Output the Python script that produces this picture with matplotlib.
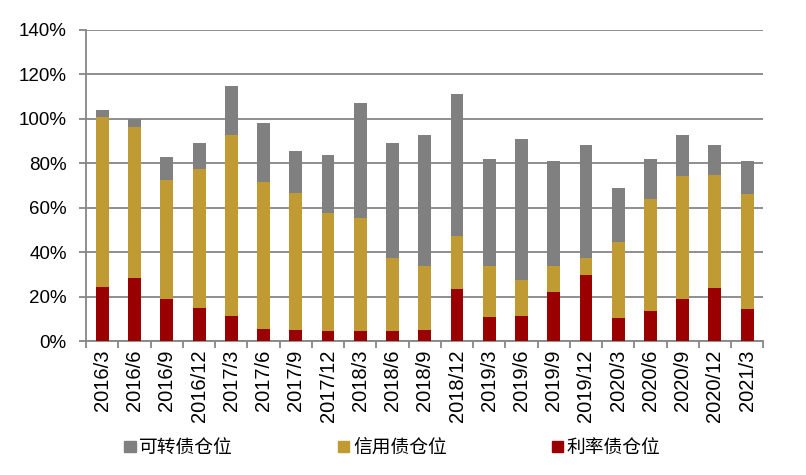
import numpy as np
import matplotlib
matplotlib.use("Agg")
from matplotlib import pyplot as plt
from matplotlib.patches import Patch

plt.rcParams['font.family'] = ['Liberation Sans', 'Noto Sans CJK SC', 'DejaVu Sans']

dates = ['2016/3', '2016/6', '2016/9', '2016/12', '2017/3', '2017/6', '2017/9', '2017/12',
         '2018/3', '2018/6', '2018/9', '2018/12', '2019/3', '2019/6', '2019/9', '2019/12',
         '2020/3', '2020/6', '2020/9', '2020/12', '2021/3']

# 利率债仓位 (%)
rate = [24.5, 28.4, 18.9, 14.9, 11.3, 5.4, 5.0, 4.5, 4.5, 4.5, 5.0,
        23.5, 10.8, 11.3, 22.1, 29.8, 10.4, 13.5, 18.9, 23.9, 14.4]
# 信用债仓位 (%)
credit = [76.5, 68.1, 53.7, 62.7, 81.6, 66.3, 61.8, 53.2, 51.0, 32.9, 28.8,
          23.9, 23.0, 16.2, 11.7, 7.6, 34.3, 50.6, 55.5, 51.0, 51.9]
# 可转债仓位 (%)
convert = [2.8, 3.2, 10.0, 11.7, 21.7, 26.2, 18.5, 25.8, 51.4, 51.9, 59.1,
           63.6, 48.3, 63.2, 47.4, 51.0, 24.3, 18.0, 18.1, 13.5, 14.9]

c_rate = '#9a0000'
c_credit = '#c09a33'
c_convert = '#808080'

rate = np.array(rate)
credit = np.array(credit)
convert = np.array(convert)
x = np.arange(len(dates))

fig = plt.figure(figsize=(8.06, 4.75), dpi=100)
ax = fig.add_axes([0.107, 0.282, 0.84, 0.655])

w = 0.4
ax.bar(x, rate, w, color=c_rate, zorder=3)
ax.bar(x, credit, w, bottom=rate, color=c_credit, zorder=3)
ax.bar(x, convert, w, bottom=rate + credit, color=c_convert, zorder=3)

ax.set_xlim(-0.5, len(dates) - 0.5)
ax.set_ylim(0, 140)
ax.set_yticks(np.arange(0, 141, 20))
ax.set_yticklabels([f'{v}%' for v in range(0, 141, 20)], fontsize=13.5)
ax.yaxis.grid(True, color='#868686', linewidth=1.3, zorder=0)

ax.set_xticks(x)
ax.set_xticklabels(dates, rotation=90, fontsize=14.5)
ax.set_xticks(np.arange(-0.5, len(dates), 1), minor=True)
ax.tick_params(axis='x', which='major', length=0, pad=6)
ax.tick_params(axis='x', which='minor', length=5, width=1.3, color='#868686')
ax.tick_params(axis='y', length=5, width=1.3, color='#868686', pad=9)

for s in ['top', 'right']:
    ax.spines[s].set_visible(False)
for s in ['left', 'bottom']:
    ax.spines[s].set_color('#868686')
    ax.spines[s].set_linewidth(1.3)

handles = [Patch(color=c_convert), Patch(color=c_credit), Patch(color=c_rate)]
labels = ['可转债仓位', '信用债仓位', '利率债仓位']
fig.legend(handles, labels, loc='center left', bbox_to_anchor=(0.145, 0.056),
           ncol=3, frameon=False, fontsize=13.5, handlelength=0.6, handleheight=0.6,
           handletextpad=0.2, columnspacing=5.6, borderaxespad=0)

fig.savefig('out.png', dpi=100)
